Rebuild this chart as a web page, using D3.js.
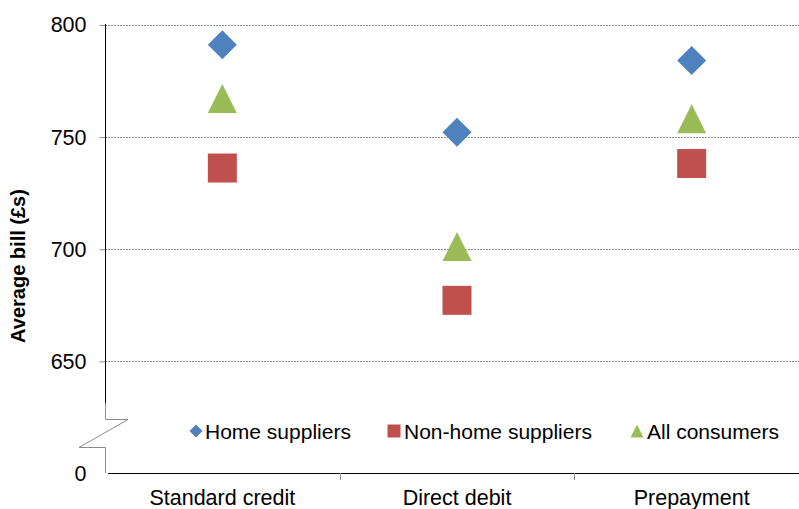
<!DOCTYPE html>
<meta charset="utf-8">
<style>
body { margin: 0; background: #fff; }
svg { display: block; font-family: "Liberation Sans", Arial, sans-serif; }
.grid line { stroke: #8c8c8c; stroke-dasharray: 2,1; }
</style>
<svg width="799" height="509"></svg>
<script src="https://cdn.jsdelivr.net/npm/d3@7"></script>
<script>

// chart values
var categories = ["Standard credit", "Direct debit", "Prepayment"];
var seriesNames = ["Home suppliers", "Non-home suppliers", "All consumers"];
var homeSuppliers = [791, 752, 784];
var nonHomeSuppliers = [736, 677, 738];
var allConsumers = [767, 701, 758];
var yTicks = [650, 700, 750, 800];

var colors = ["#4f81bd", "#c0504d", "#9bbb59"];

var svg = d3.select("svg");

// custom marker shapes, size = half width
var diamond = { draw: function(c, r) {
  c.moveTo(0, -r); c.lineTo(r, 0); c.lineTo(0, r); c.lineTo(-r, 0); c.closePath();
}};
var square = { draw: function(c, r) { c.rect(-r, -r, 2 * r, 2 * r); } };
var triangle = { draw: function(c, r) {
  c.moveTo(0, -r); c.lineTo(r, r); c.lineTo(-r, r); c.closePath();
}};
var shapes = [diamond, square, triangle];

var x = d3.scaleBand().domain(categories).range([105, 809]);

// broken axis: 0 at the bottom, 650..800 above the break
var y = d3.scaleLinear().domain([0, 631, 800]).range([473, 403.5, 24.5]);

// gridlines
svg.append("g").attr("class", "grid")
  .selectAll("line").data(yTicks).enter().append("line")
    .attr("x1", 105).attr("x2", 799)
    .attr("y1", function(d) { return Math.round(y(d)) + 0.5; })
    .attr("y2", function(d) { return Math.round(y(d)) + 0.5; });

// y axis
var yAxis = svg.append("g")
  .attr("transform", "translate(105.5,0.5)")
  .call(d3.axisLeft(y).tickValues([0].concat(yTicks)).tickSize(6).tickPadding(13));
yAxis.select(".domain").remove();
yAxis.selectAll(".tick line").attr("stroke", "#8c8c8c")
  .filter(function(d) { return d === 0; }).remove();
yAxis.selectAll(".tick text").attr("font-size", "21.5px").attr("fill", "#000")
  .attr("font-family", "Liberation Sans, Arial, sans-serif");

// axis line with the break
svg.append("line").attr("x1", 105.5).attr("x2", 105.5).attr("y1", 24).attr("y2", 403)
  .attr("stroke", "#000");
svg.append("path")
  .attr("d", "M105.5,403V419.5H128L79,447.5H105.5V473")
  .attr("fill", "none").attr("stroke", "#8c8c8c");

// x axis
svg.append("line").attr("x1", 108).attr("x2", 799).attr("y1", 473.5).attr("y2", 473.5)
  .attr("stroke", "#000");
svg.selectAll(".xtick").data(categories.slice(1)).enter().append("line")
  .attr("x1", function(d) { return Math.round(x(d)) + 0.5; })
  .attr("x2", function(d) { return Math.round(x(d)) + 0.5; })
  .attr("y1", 473).attr("y2", 480).attr("stroke", "#8c8c8c");
svg.selectAll(".xlabel").data(categories).enter().append("text")
  .attr("x", function(d) { return x(d) + x.bandwidth() / 2; })
  .attr("y", 505)
  .attr("text-anchor", "middle")
  .attr("font-size", "21.5px")
  .text(function(d) { return d; });

// y title
svg.append("text")
  .attr("transform", "translate(25,266) rotate(-90)")
  .attr("text-anchor", "middle")
  .attr("font-size", "20px")
  .attr("font-weight", "bold")
  .text("Average bill (£s)");

// markers
var series = [homeSuppliers, nonHomeSuppliers, allConsumers];
series.forEach(function(vals, s) {
  svg.append("g").selectAll("path").data(vals).enter().append("path")
    .attr("d", d3.symbol().type(shapes[s]).size(14.5))
    .attr("transform", function(d, i) {
      return "translate(" + (x(categories[i]) + x.bandwidth() / 2) + "," + y(d) + ")";
    })
    .attr("fill", colors[s]);
});

// legend
var legendX = [196, 394, 637];
var legend = svg.append("g").selectAll("g").data(seriesNames).enter().append("g")
  .attr("transform", function(d, i) { return "translate(" + legendX[i] + ",431)"; });
legend.append("path")
  .attr("d", function(d, i) { return d3.symbol().type(shapes[i]).size(6.5)(); })
  .attr("fill", function(d, i) { return colors[i]; });
legend.append("text")
  .attr("x", function(d, i) { return i === 0 ? 9 : 10; })
  .attr("y", 8)
  .attr("font-size", "21px")
  .text(function(d) { return d; });

</script>
